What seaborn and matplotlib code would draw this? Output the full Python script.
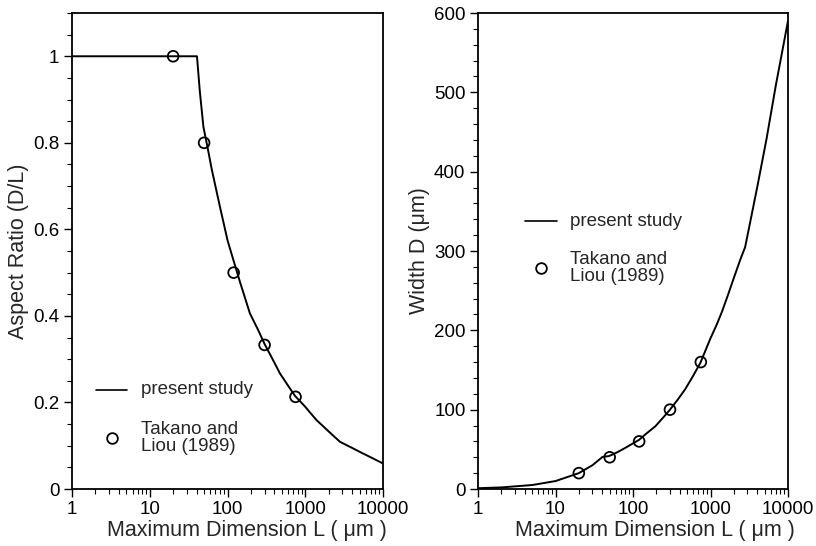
import matplotlib
matplotlib.use("Agg")
import matplotlib.pyplot as plt
import seaborn as sns
import numpy as np
import pandas as pd
from matplotlib.ticker import MultipleLocator, FixedLocator, FuncFormatter, LogLocator, NullFormatter

# ---- data ----
L_left = [1, 40.5, 44, 49, 56, 63, 80, 100, 120, 145, 194, 250, 300, 380, 473, 600, 740,
          1000, 1200, 1400, 1700, 2000, 2400, 2800, 4000, 5300, 7000, 10000]
AR_left = [1.0, 1.0, 0.92, 0.837, 0.785, 0.737, 0.652, 0.575, 0.527, 0.478, 0.406, 0.366, 0.335, 0.30,
           0.267, 0.239, 0.215, 0.19, 0.173, 0.159, 0.145, 0.133, 0.12, 0.109, 0.095, 0.0837, 0.073, 0.059]

L_right = [1, 2, 5, 10, 20, 30, 40.5, 45, 49, 63, 80, 100, 120, 145, 194, 250, 300, 380, 473, 600,
           740, 1000, 1200, 1400, 1700, 2000, 2400, 2800, 4000, 5300, 7000, 10000]
D_right = [1, 2, 5, 10, 20, 30, 40.5, 41, 41.5, 46.4, 52, 57.5, 62, 69, 79, 91, 100, 113, 126, 143,
           159, 190, 207, 223, 246, 266, 288, 305, 380, 442, 510, 590]

TL_L = [20, 50, 120, 300, 750]
TL_AR = [1.0, 0.8, 0.5, 0.333, 0.213]
TL_D = [20, 40, 60, 100, 160]

x_ticks = [1, 10, 100, 1000, 10000]
x_ticklabels = ["1", "10", "100", "1000", "10000"]

sns.set_theme(style="ticks")
plt.rcParams['font.family'] = ['Liberation Sans', 'DejaVu Sans']

fig = plt.figure(figsize=(8.16, 5.46), dpi=100)
axL = fig.add_axes([72/816, 57/546, 311/816, 476/546])
axR = fig.add_axes([478/816, 57/546, 310/816, 476/546])

df_left = pd.DataFrame({"L": L_left, "AR": AR_left})
df_right = pd.DataFrame({"L": L_right, "D": D_right})
df_tl = pd.DataFrame({"L": TL_L, "AR": TL_AR, "D": TL_D})

sns.lineplot(data=df_left, x="L", y="AR", ax=axL, color="black", lw=1.4, sort=False)
sns.scatterplot(data=df_tl, x="L", y="AR", ax=axL, marker="o", s=60,
                facecolor="none", edgecolor="black", linewidth=1.3, zorder=3)

sns.lineplot(data=df_right, x="L", y="D", ax=axR, color="black", lw=1.4, sort=False)
sns.scatterplot(data=df_tl, x="L", y="D", ax=axR, marker="o", s=60,
                facecolor="none", edgecolor="black", linewidth=1.3, zorder=3)

tick_fs = 13.5
for ax in (axL, axR):
    ax.set_xscale("log")
    ax.set_xlim(1, 10000)
    ax.xaxis.set_major_locator(FixedLocator(x_ticks))
    ax.set_xticklabels(x_ticklabels)
    ax.xaxis.set_minor_locator(LogLocator(base=10, subs=np.arange(2, 10)))
    ax.xaxis.set_minor_formatter(NullFormatter())
    ax.tick_params(which="major", direction="out", length=6, width=1, colors="black",
                   labelsize=tick_fs, top=False, right=False, pad=3)
    ax.tick_params(which="minor", direction="out", length=3.5, width=0.8, colors="black",
                   top=False, right=False)
    for s in ax.spines.values():
        s.set_visible(True)
        s.set_color("black")
        s.set_linewidth(1.3)
    ax.set_xlabel("Maximum Dimension L ( μm )", fontsize=15.5)

axL.xaxis.set_label_coords(0.563, -0.066)
axR.xaxis.set_label_coords(0.571, -0.066)

axL.set_ylim(0, 1.1)
axL.yaxis.set_major_locator(FixedLocator([0, 0.2, 0.4, 0.6, 0.8, 1.0]))
axL.yaxis.set_major_formatter(FuncFormatter(lambda v, p: f"{v:g}"))
axL.yaxis.set_minor_locator(MultipleLocator(0.05))
axL.set_ylabel("Aspect Ratio (D/L)", fontsize=15.5, labelpad=3)

axR.set_ylim(0, 600)
axR.yaxis.set_major_locator(MultipleLocator(100))
axR.yaxis.set_major_formatter(FuncFormatter(lambda v, p: f"{v:g}"))
axR.yaxis.set_minor_locator(MultipleLocator(20))
axR.set_ylabel("Width D (μm)", fontsize=15.5, labelpad=3)

# ---- hand-placed legends ----
leg_fs = 13.5
def legend(ax, x0, x1, yl, xc, yc, xt):
    ax.plot([x0, x1], [yl, yl], transform=ax.transAxes, color="black", lw=1.2)
    ax.plot([xc], [yc], transform=ax.transAxes, marker="o", ms=7.7, mfc="none",
            mec="black", mew=1.3, ls="none")
    ax.text(xt, yl, "present study", transform=ax.transAxes, fontsize=leg_fs,
            va="center", ha="left")
    ax.text(xt, yc, "Takano and\nLiou (1989)", transform=ax.transAxes, fontsize=leg_fs,
            va="center", ha="left", linespacing=0.95)

legend(axL, 0.077, 0.177, 0.209, 0.129, 0.107, 0.222)
legend(axR, 0.152, 0.254, 0.563, 0.204, 0.464, 0.297)

fig.savefig("out.png", dpi=100)
